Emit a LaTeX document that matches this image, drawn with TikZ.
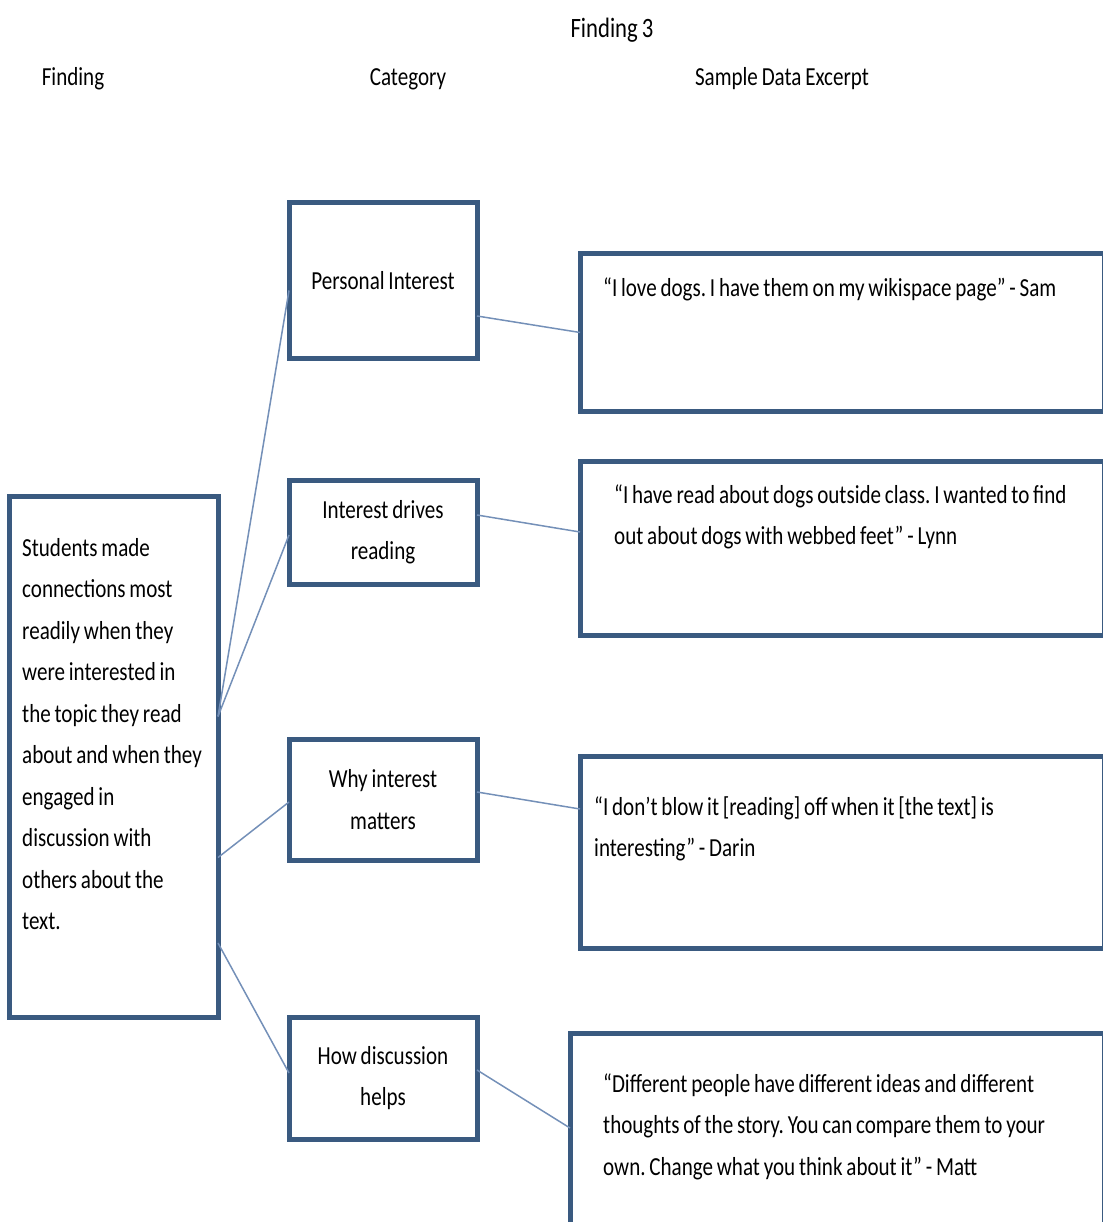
\documentclass[tikz,border=0pt]{standalone}
\usepackage{fontspec}
\setmainfont{Carlito}[FakeStretch=0.81, WordSpace=0.8]
\usetikzlibrary{calc}

\definecolor{boxline}{HTML}{3A5A80}
\definecolor{linkline}{HTML}{7490B8}

\newcommand\plainsp{\spaceskip=0pt\xspaceskip=0pt\relax}

\tikzset{
  box/.style={draw=boxline, line width=5pt, rectangle, inner sep=0pt, outer sep=0pt},
  catbox/.style={box, minimum width=188pt, align=center, font=\fontsize{26}{41.5}\selectfont},
  link/.style={draw=linkline, line width=1.5pt},
  txt/.style={anchor=base west, inner sep=0pt, align=left, font=\fontsize{26}{41.5}\selectfont},
  head/.style={anchor=base, inner sep=0pt, font=\fontsize{26}{31}\selectfont}
}

\begin{document}
\frenchspacing
\begin{tikzpicture}[x=1pt, y=-1pt]
  \useasboundingbox (0,0) rectangle (1102,1222);

  % headings
  \node[head, font=\fontsize{28}{32}\selectfont] (title) at (612,38) {Finding 3};
  \node[head] (hfind) at (73,86) {Finding};
  \node[head] (hcat) at (408,86) {Category};
  \node[head] (hex) at (782,86) {Sample Data Excerpt};

  % finding
  \node[box, minimum width=209pt, minimum height=521pt] (find) at (113.5,756.5) {};
  \node[txt, text width=194pt] (findtext) at (22,556) {\plainsp Students made\\ connections most\\ readily when they\\ were interested in\\ the topic they read\\ about and when they\\ engaged in\\ discussion with\\ others about the\\ text.};

  % categories
  \node[catbox, minimum height=155pt] (pi) at (383,280.5) {Personal Interest};
  \node[catbox, minimum height=104pt] (idr) at (383,532) {Interest drives\\ reading};
  \node[catbox, minimum height=121pt] (why) at (383,799.5) {Why interest\\ matters};
  \node[catbox, minimum height=122pt] (how) at (383,1078) {How discussion\\ helps};

  % excerpts
  \node[box, minimum width=524pt, minimum height=157pt] (ex1) at (842,332.5) {};
  \node[box, minimum width=524pt, minimum height=174pt] (ex2) at (842,548) {};
  \node[box, minimum width=524pt, minimum height=192pt] (ex3) at (842,852) {};
  \node[box, minimum width=534pt, minimum height=207pt] (ex4) at (837,1136.5) {};
  \node[txt, text width=480pt] (ex1text) at (603,297) {\plainsp “I love dogs. I have them on my wikispace page” - Sam};
  \node[txt, text width=480pt] (ex2text) at (614,503) {\plainsp “I have read about dogs outside class. I wanted to find\\ out about dogs with webbed feet” - Lynn};
  \node[txt, text width=480pt] (ex3text) at (594,815) {\plainsp “I don’t blow it [reading] off when it [the text] is\\ interesting” - Darin};
  \node[txt, text width=480pt] (ex4text) at (603,1092) {\plainsp “Different people have different ideas and different\\ thoughts of the story. You can compare them to your\\ own. Change what you think about it” - Matt};

  % links
  \draw[link] ([yshift=40pt]find.east) -- ([yshift=-10pt]pi.west);
  \draw[link] ([yshift=40pt]find.east) -- ([yshift=-3pt]idr.west);
  \draw[link] ([yshift=-101pt]find.east) -- ([yshift=-2.5pt]why.west);
  \draw[link] ([yshift=-186.5pt]find.east) -- ([yshift=5pt]how.west);
  \draw[link] ([yshift=-35.5pt]pi.east) -- (ex1.west);
  \draw[link] ([yshift=17pt]idr.east) -- ([yshift=16pt]ex2.west);
  \draw[link] ([yshift=7.5pt]why.east) -- ([yshift=43pt]ex3.west);
  \draw[link] ([yshift=8pt]how.east) -- ([yshift=8.5pt]ex4.west);
\end{tikzpicture}
\end{document}
